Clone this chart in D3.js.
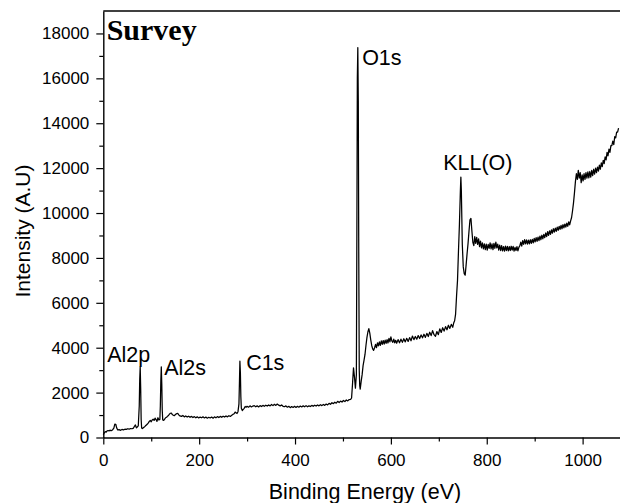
<!DOCTYPE html>
<html><head><meta charset="utf-8">
<script src="https://cdn.jsdelivr.net/npm/d3@7"></script>
<style>
body{margin:0;background:#fff}
svg{display:block}
text{font-family:"Liberation Sans",Arial,sans-serif;fill:#000}
</style>
</head><body>
<svg id="chart" width="620" height="503"></svg>
<script>
// ---------- data (binding energy in eV, intensity in a.u.) ----------
const energy = [
  0,2,4,6,8,10,12,14,16,18,20,22,24,26,28,30,
  33,36,39,42,45,48,51,54,57,60,63,65,67,69,71,73,
  75,76,77,78,79,80,82,84,86,88,90,92,94,96,98,100,
  102,104,106,108,110,112,114,116,118,119,120,121,122,123,
  124,126,128,130,132,134,136,138,140,142,144,146,148,150,152,154,156,158,160,
  163,166,169,172,175,178,181,184,187,190,193,196,199,202,205,208,211,214,217,220,
  223,226,229,232,235,238,241,244,247,250,253,256,259,262,265,268,
  271,273,275,277,279,281,283,284,285,286,287,288,290,292,294,296,298,300,
  303,306,309,312,315,318,321,324,327,330,
  333,336,339,342,345,348,351,354,357,360,
  363,366,369,372,375,378,381,384,387,390,
  393,396,399,402,405,408,411,414,417,420,
  423,426,429,432,435,438,441,444,447,450,
  453,456,459,462,465,468,471,474,477,480,
  483,486,489,492,495,498,501,504,507,510,
  513,516,
  518,520,522,524,526,528,529,530,531,532,533,534,535,536,538,540,542,544,546,548,550,552,554,556,558,560,562,564,566,
  568,570,572,574,576,578,580,582,584,586,588,590,592,594,596,598,600,
  602,604,606,608,610,612,
  615,618,621,624,627,630,633,636,639,642,
  645,648,651,654,657,660,663,666,669,672,
  675,678,681,684,687,690,
  693,696,699,702,705,708,711,714,717,720,723,726,729,
  731,733,735,737,739,741,743,745,746,747,748,749,751,753,755,757,759,761,763,765,767,769,771,773,
  775,777,779,781,783,785,787,789,791,793,
  795,797,799,801,803,805,807,809,811,813,
  815,817,819,821,823,825,827,829,831,833,
  835,837,839,841,843,845,847,849,851,853,
  855,857,859,861,863,865,867,869,871,873,
  875,877,879,881,883,885,887,889,891,893,
  895,897,899,901,903,905,907,909,911,913,
  915,917,919,921,923,925,927,929,931,933,
  935,937,939,941,943,945,947,949,951,953,
  955,957,959,961,963,965,967,969,971,973,
  975,977,979,981,983,985,987,989,991,993,
  995,997,999,1001,1003,1005,1007,1009,1011,1013,
  1015,1017,1019,1021,1023,1025,1027,1029,1031,1033,
  1035,1037,1039,1041,1043,1045,1047,1049,1051,1053,
  1055,1057,1059,1061,1063,1065,1067,1069,1071,1073,
  1075
];
const intensity = [
  130,200,260,240,300,310,290,330,300,320,360,420,600,590,420,340,
  350,320,360,340,370,360,390,370,400,390,420,500,560,430,470,520,
  1400,2600,3150,2200,800,420,400,450,470,520,560,600,650,720,760,700,
  780,820,760,860,800,720,880,780,800,1400,2500,3150,2400,1200,
  780,760,820,880,900,950,980,1040,1080,1090,1020,990,970,1010,1050,1070,1060,990,960,
  940,980,920,960,910,950,900,940,890,930,880,920,870,910,880,920,870,910,860,900,
  870,910,860,920,880,930,890,940,900,950,910,960,920,970,940,990,
  1040,1060,1130,1100,1070,1150,1500,2400,3400,2900,1800,1300,1200,1250,1300,1380,1350,1390,
  1350,1410,1360,1400,1420,1370,1410,1360,1420,1380,
  1430,1390,1440,1400,1450,1410,1470,1420,1480,1430,
  1490,1440,1410,1450,1390,1370,1410,1350,1390,1330,
  1380,1340,1390,1340,1390,1350,1400,1360,1410,1370,
  1420,1370,1410,1380,1430,1390,1440,1400,1450,1410,
  1460,1420,1470,1430,1490,1450,1520,1480,1550,1510,
  1570,1530,1610,1560,1620,1580,1650,1600,1670,1630,
  1690,1700,
  1760,2400,3100,2700,2200,2800,9000,16000,17370,15000,8000,3000,2300,2150,2500,2800,3200,3450,3700,4100,4450,4700,4850,4650,4350,4100,3950,3880,4000,
  4150,4000,4220,4080,4260,4100,4300,4150,4320,4160,4340,4190,4360,4210,4420,4260,4480,
  4300,4240,4380,4220,4330,4200,
  4360,4220,4380,4240,4400,4260,4420,4280,4450,4310,
  4520,4360,4500,4380,4540,4410,4570,4440,4600,4460,
  4640,4500,4690,4540,4760,4580,
  4510,4720,4580,4840,4680,4890,4740,4940,4800,5000,4860,5040,4910,
  5100,5200,5500,6300,7000,8300,9500,11000,11600,11000,9800,8600,7600,7300,7230,7700,8200,8650,9200,9700,9760,9200,8700,8550,
  8950,8650,8920,8600,8850,8500,8750,8450,8670,8400,
  8630,8370,8610,8350,8600,8430,8670,8400,8630,8370,
  8650,8430,8700,8450,8610,8350,8570,8330,8550,8310,
  8500,8300,8530,8330,8510,8310,8500,8330,8520,8350,
  8510,8300,8470,8330,8500,8310,8470,8540,8700,8530,
  8770,8600,8820,8630,8800,8610,8790,8630,8810,8650,
  8830,8670,8870,8710,8900,8740,8930,8770,8970,8810,
  9010,8850,9050,8900,9110,8950,9170,9000,9210,9050,
  9250,9100,9300,9150,9330,9180,9370,9230,9410,9270,
  9450,9300,9480,9340,9510,9370,9550,9410,9610,9470,
  9650,9800,10100,10450,10900,11400,11750,11500,11900,11550,
  11800,11350,11700,11430,11750,11500,11800,11550,11830,11570,
  11850,11600,11900,11670,11950,11730,12000,11800,12050,11870,
  12130,11950,12230,12070,12350,12200,12500,12370,12700,12550,
  12850,12700,13000,13000,13200,13050,13400,13350,13600,13600,
  13780
];
const xTicks = [0,200,400,600,800,1000];
const xMinorTicks = [100,300,500,700,900];
const yTicks = [0,2000,4000,6000,8000,10000,12000,14000,16000,18000];
const yMinorTicks = [1000,3000,5000,7000,9000,11000,13000,15000,17000];
const peakNames = ["Al2p","Al2s","C1s","O1s","KLL(O)"];
const peakLabelEnergy = [8,127,298,540,709];
const peakLabelIntensity = [3360,2780,3000,16600,11920];
const panelTitle = "Survey";
const xTitle = "Binding Energy (eV)";
const yTitle = "Intensity (A.U)";

// ---------- drawing ----------
const svg = d3.select("#chart");
const mLeft = 103.3, mRight = 620, mTop = 11, mBottom = 437.5;
const x = d3.scaleLinear().domain([0,1078]).range([mLeft,mRight]);
const y = d3.scaleLinear().domain([0,19000]).range([mBottom,mTop]);

const points = energy.map((e,i)=>[e,intensity[i]]);

// top frame line
svg.append("line").attr("x1",mLeft).attr("x2",mRight).attr("y1",mTop).attr("y2",mTop)
  .attr("stroke","#000").attr("stroke-width",1.4);

// spectrum
svg.append("path").datum(points)
  .attr("fill","none").attr("stroke","#000").attr("stroke-width",1.25)
  .attr("stroke-linejoin","round")
  .attr("d", d3.line().x(d=>x(d[0])).y(d=>y(d[1])));

function styleAxis(g){
  g.attr("font-family",null).attr("font-size",null);
  g.selectAll("path.domain").attr("stroke","#000").attr("stroke-width",1.4);
  g.selectAll(".tick line").attr("stroke","#000").attr("stroke-width",1.2);
  g.selectAll(".tick text").style("font-size","17px").attr("fill","#000");
}

// x axis
const gx = svg.append("g").attr("transform",`translate(0,${mBottom})`)
  .call(d3.axisBottom(x).tickValues(xTicks).tickSize(7).tickSizeOuter(0).tickPadding(9.5).tickFormat(d3.format("d")));
styleAxis(gx);
const gxm = svg.append("g").attr("transform",`translate(0,${mBottom})`)
  .call(d3.axisBottom(x).tickValues(xMinorTicks).tickSize(4).tickSizeOuter(0).tickFormat(""));
gxm.select("path.domain").remove();
gxm.selectAll(".tick line").attr("stroke","#000").attr("stroke-width",1.2);

// y axis
const gy = svg.append("g").attr("transform",`translate(${mLeft},0)`)
  .call(d3.axisLeft(y).tickValues(yTicks).tickSize(7).tickSizeOuter(0).tickPadding(7).tickFormat(d3.format("d")));
styleAxis(gy);
const gym = svg.append("g").attr("transform",`translate(${mLeft},0)`)
  .call(d3.axisLeft(y).tickValues(yMinorTicks).tickSize(4).tickSizeOuter(0).tickFormat(""));
gym.select("path.domain").remove();
gym.selectAll(".tick line").attr("stroke","#000").attr("stroke-width",1.2);

// axis titles
svg.append("text").attr("x",365).attr("y",499).attr("text-anchor","middle")
  .style("font-size","21.5px").text(xTitle);
svg.append("text").attr("transform","translate(30,231) rotate(-90)").attr("text-anchor","middle")
  .style("font-size","21px").text(yTitle);

// panel title
svg.append("text").attr("x",x(7)).attr("y",y(17700))
  .style("font-family","'Liberation Serif','Times New Roman',serif").style("font-weight","bold")
  .style("font-size","30px").text(panelTitle);

// peak labels
svg.selectAll("text.peak").data(peakNames).enter().append("text").attr("class","peak")
  .attr("x",(d,i)=>x(peakLabelEnergy[i])).attr("y",(d,i)=>y(peakLabelIntensity[i]))
  .style("font-size","21.5px").text(d=>d);
</script>
</body></html>
